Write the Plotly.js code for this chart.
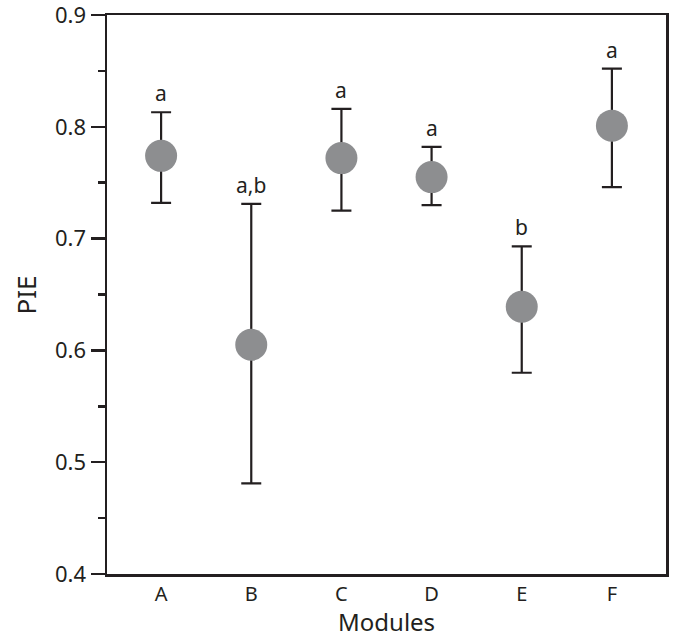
<!DOCTYPE html>
<html>
<head>
<meta charset="utf-8">
<script src="https://cdn.plot.ly/plotly-3.0.1.min.js"></script>
<style>html,body{margin:0;padding:0;background:#fff;}#chart{width:674px;height:640px;}</style>
</head>
<body>
<div id="chart"></div>
<script>
const modules = ["A", "B", "C", "D", "E", "F"];
const pieMean = [0.774, 0.605, 0.772, 0.755, 0.639, 0.801];
const pieUpper = [0.813, 0.731, 0.816, 0.782, 0.693, 0.852];
const pieLower = [0.732, 0.481, 0.725, 0.730, 0.580, 0.746];
const groupLetters = ["a", "a,b", "a", "a", "b", "a"];
const yTicks = [0.4, 0.5, 0.6, 0.7, 0.8, 0.9];
const xTitle = "Modules";
const yTitle = "PIE";

const ink = "#231f20";
const fontFam = "'Noto Sans', 'Open Sans', sans-serif";

const trace = {
  type: "scatter",
  mode: "markers",
  x: modules,
  y: pieMean,
  marker: {size: 32, color: "#8d8e90", line: {width: 0}},
  error_y: {
    type: "data",
    symmetric: false,
    array: pieUpper.map((u, i) => u - pieMean[i]),
    arrayminus: pieLower.map((l, i) => pieMean[i] - l),
    color: ink,
    thickness: 2.2,
    width: 10
  },
  hoverinfo: "skip",
  showlegend: false
};

const annotations = modules.map((m, i) => ({
  x: m, y: pieUpper[i], xref: "x", yref: "y",
  text: groupLetters[i], showarrow: false,
  yanchor: "bottom", yshift: 3,
  font: {family: fontFam, size: 21, color: ink}
}));
annotations.push({
  xref: "paper", yref: "paper", x: 0.5, y: -0.0850,
  xanchor: "center", yanchor: "middle", showarrow: false,
  text: xTitle, font: {family: fontFam, size: 24, color: ink}
});
annotations.push({
  xref: "paper", yref: "paper", x: -0.145, y: 0.5,
  xanchor: "center", yanchor: "middle", showarrow: false, textangle: -90,
  text: yTitle, font: {family: fontFam, size: 26, color: ink}
});

const layout = {
  width: 674, height: 640,
  margin: {l: 107, r: 8, t: 15, b: 66},
  paper_bgcolor: "#fff", plot_bgcolor: "#fff",
  showlegend: false,
  font: {family: fontFam, color: ink},
  xaxis: {
    type: "category",
    range: [-0.6, 5.6],
    showgrid: false, zeroline: false,
    showline: true, linecolor: ink, linewidth: 2.5, mirror: true,
    ticks: "", tickfont: {family: fontFam, size: 20, color: ink}
  },
  yaxis: {
    range: [0.4, 0.9],
    tickvals: yTicks,
    ticktext: yTicks.map(v => v.toFixed(1)),
    ticklabeloverflow: "allow",
    showgrid: false, zeroline: false,
    showline: true, linecolor: ink, linewidth: 2.5, mirror: true,
    ticks: "outside", ticklen: 14, tickwidth: 2.5, tickcolor: ink,
    minor: {dtick: 0.05, ticks: "outside", ticklen: 7, tickwidth: 2.5, tickcolor: ink, showgrid: false},
    tickfont: {family: fontFam, size: 22, color: ink}
  },
  annotations: annotations
};

Plotly.newPlot("chart", [trace], layout, {displayModeBar: false, staticPlot: true});
</script>
</body>
</html>
